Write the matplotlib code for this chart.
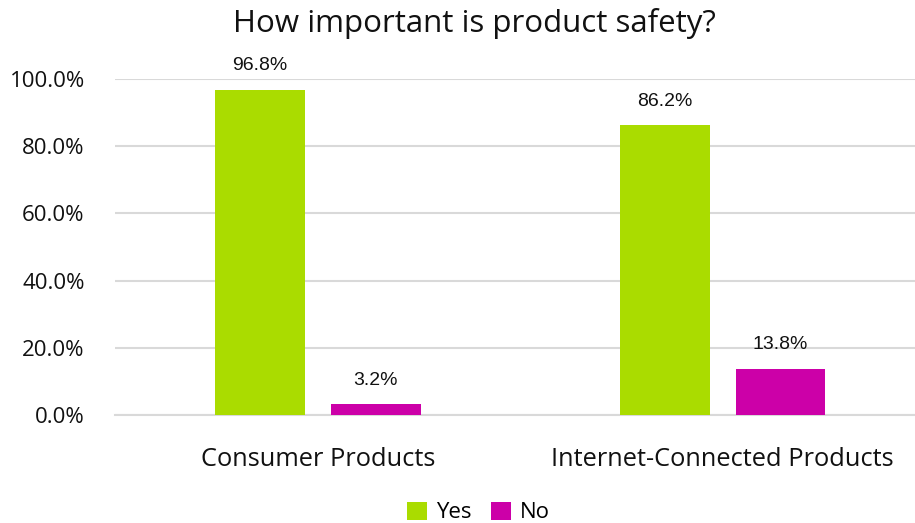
import matplotlib
matplotlib.use("Agg")
import matplotlib.pyplot as plt
import numpy as np

categories = ["Consumer Products", "Internet-Connected Products"]
series_names = ["Yes", "No"]
yes_values = [96.8, 86.2]
no_values = [3.2, 13.8]
y_ticks = [0, 20, 40, 60, 80, 100]

colors = ["#AADC00", "#CC00A8"]
main_font = ["Open Sans", "DejaVu Sans"]
label_font = ["Liberation Sans Narrow", "Liberation Sans", "DejaVu Sans"]

fig = plt.figure(figsize=(9.15, 5.23), dpi=100)
ax = fig.add_axes([0.126, 0.2065, 0.885, 0.6425])

x = np.arange(len(categories))
width = 0.222
offset = 0.143

for vals, off, col, name in [(yes_values, -offset, colors[0], series_names[0]),
                             (no_values, offset, colors[1], series_names[1])]:
    bars = ax.bar(x + off, vals, width, color=col, label=name, zorder=3)
    for b, v in zip(bars, vals):
        ax.annotate(f"{v:.1f}%", (b.get_x() + b.get_width() / 2, v),
                    xytext=(0, 11), textcoords="offset points",
                    ha="center", va="bottom", fontsize=14,
                    family=label_font, color="#111111")

ax.set_ylim(0, 100)
ax.set_xlim(-0.5, 1.5)
ax.set_yticks(y_ticks)
ax.set_yticklabels([f"{t:.1f}%" for t in y_ticks], family=main_font, fontsize=16)
ax.set_xticks(x)
ax.set_xticklabels(categories, family=main_font, fontsize=18.3)
ax.tick_params(axis="both", length=0, colors="#111111")
ax.tick_params(axis="y", pad=22)
ax.tick_params(axis="x", pad=23)
ax.grid(axis="y", color="#D9D9D9", linewidth=1.5, zorder=0)
for s in ["top", "right", "left"]:
    ax.spines[s].set_visible(False)
ax.spines["bottom"].set_color("#D9D9D9")
ax.spines["bottom"].set_linewidth(1.5)

fig.text(0.518, 0.955, "How important is product safety?", ha="center", va="center",
         fontsize=22.5, family=main_font, color="#111111")

leg = fig.legend(loc="center", bbox_to_anchor=(0.523, 0.02), ncol=2, frameon=False,
                 prop={"family": main_font, "size": 16}, handlelength=0.9,
                 handleheight=0.9, handletextpad=0.4, columnspacing=0.9)

fig.savefig("out.png", dpi=100)
